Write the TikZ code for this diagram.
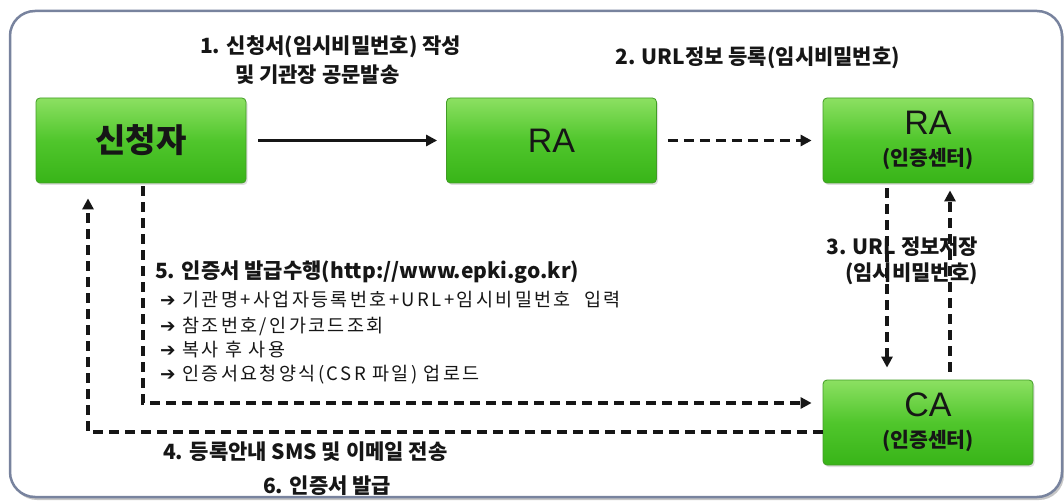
\documentclass[tikz,border=0pt]{standalone}
\usepackage{fontspec}
\setmainfont{Noto Sans CJK KR}
\newfontfamily\latf{Liberation Sans}
\newfontfamily\djv{DejaVu Sans}
\newfontfamily\gul[LetterSpace=13]{Noto Sans CJK KR}
\usetikzlibrary{arrows.meta,shadows}
\definecolor{frameC}{RGB}{120,131,158}
\definecolor{gTop}{RGB}{140,224,98}
\definecolor{gMid}{RGB}{80,198,44}
\definecolor{gBot}{RGB}{56,180,24}
\definecolor{gEdge}{RGB}{66,156,38}
\definecolor{txt}{RGB}{22,22,22}
\begin{document}
\begin{tikzpicture}[x=1pt,y=-1pt,
  frame/.style={draw=frameC, line width=2.5pt, rounded corners=25pt, fill=white,
    drop shadow={opacity=0.45, shadow xshift=2pt, shadow yshift=-3pt}},
  box/.style={draw=gEdge, line width=0.8pt, rounded corners=4pt,
    top color=gTop, bottom color=gBot, middle color=gMid,
    minimum width=210pt, minimum height=85pt, inner sep=0pt, align=center, text=txt,
    font=\fontsize{20.5}{31}\selectfont,
    drop shadow={opacity=0.25, shadow xshift=1.5pt, shadow yshift=-2pt}},
  big/.style={font=\bfseries\fontsize{33}{35}\selectfont},
  lbl/.style={font=\bfseries\fontsize{21}{24}\selectfont, text=txt, inner sep=0pt, anchor=west},
  bul/.style={font=\gul\fontsize{18.5}{20}\selectfont, text=txt, inner sep=0pt, anchor=west},
  conn/.style={line width=3.4pt, draw=txt, -{Triangle[length=11pt,width=11pt]}},
  dconn/.style={conn, line width=3.7pt, dash pattern=on 10pt off 6pt}
]
\useasboundingbox (0,0) rectangle (1064,502);
\draw[frame] (10,11) rectangle (1062,497);

% boxes
\node[box, big] (A) at (141,140.5) {신청자};
\node[box] (B) at (551.5,140.5) {\latf\fontsize{34}{36}\selectfont RA};
\node[box] (C) at (928,140.5) {{\latf\fontsize{34}{34}\selectfont RA}\\{\bfseries (인증센터)}};
\node[box] (D) at (928,422.5) {{\latf\fontsize{34}{34}\selectfont CA}\\{\bfseries (인증센터)}};

% labels
\node[lbl] (l1a) at (200,47) {1. 신청서(임시비밀번호) 작성};
\node[lbl] (l1b) at (235,75) {및 기관장 공문발송};
\node[lbl] (l2) at (615,58) {2. URL정보 등록(임시비밀번호)};
\node[lbl] (l3a) at (826,247) {3. URL 정보저장};
\node[lbl] (l3b) at (845,274) {(임시비밀번호)};
\node[lbl] (l5) at (155,272) {5. 인증서 발급수행(http://www.epki.go.kr)};
\node[bul] (b1) at (160,300) {{\djv ➔} 기관명+사업자등록번호+URL+임시비밀번호\ \ 입력};
\node[bul] (b2) at (160,326) {{\djv ➔} 참조번호/인가코드조회};
\node[bul] (b3) at (160,350) {{\djv ➔} 복사 후 사용};
\node[bul] (b4) at (160,375) {{\djv ➔} 인증서요청양식(CSR 파일) 업로드};
\node[lbl] (l4) at (163,452) {4. 등록안내 SMS 및 이메일 전송};
\node[lbl] (l6) at (263,486) {6. 인증서 발급};

% connectors
\draw[conn] ([xshift=12pt]A.east) -- ([xshift=-9pt]B.west);
\draw[dconn] ([xshift=11pt]B.east) -- ([xshift=-11pt]C.west);
\draw[dconn] ([xshift=-41pt,yshift=-5pt]C.south) -- ([xshift=-41pt,yshift=12pt]D.north);
\draw[dconn] ([xshift=22pt,yshift=8pt]D.north) -- ([xshift=22pt,yshift=-7pt]C.south);
\draw[dconn] ([xshift=2pt,yshift=-3pt]A.south) |- ([xshift=-11pt,yshift=19.5pt]D.west);
\draw[dconn] ([yshift=-9.5pt]D.west) -| ([xshift=-53pt,yshift=-15pt]A.south);
\end{tikzpicture}
\end{document}
